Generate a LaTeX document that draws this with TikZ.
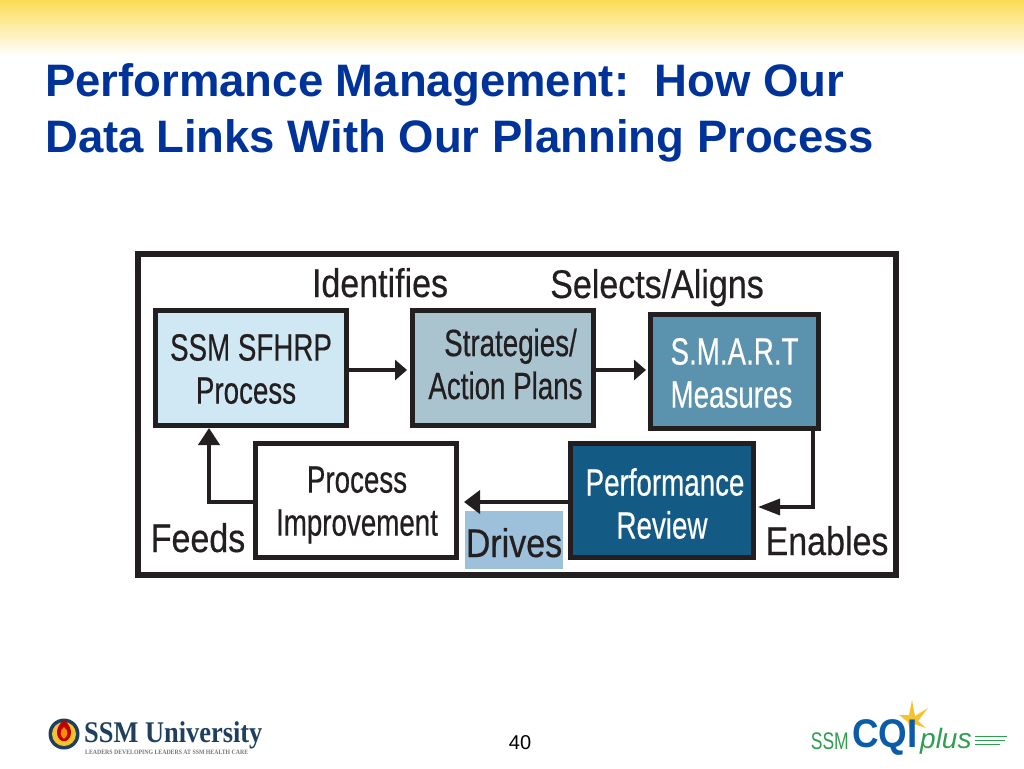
\documentclass[tikz,border=0pt]{standalone}
\usepackage{fontspec}
\setmainfont{Liberation Sans}
\newfontfamily\diagfont[FakeStretch=0.73,FakeBold=0.4]{Liberation Sans}
\newfontfamily\tagfont[FakeStretch=0.85,FakeBold=0.4]{Liberation Sans}
\newfontfamily\ssmfont[FakeStretch=0.73]{Liberation Sans}
\newfontfamily\cqifont[FakeStretch=0.92]{Liberation Sans}
\newfontfamily\logofont[FakeStretch=0.88]{Liberation Serif}
\usetikzlibrary{arrows.meta,positioning,shapes.geometric}
\definecolor{TitleBlue}{HTML}{003399}
\definecolor{BandYellow}{HTML}{FCDC55}
\definecolor{SoftBlue}{HTML}{CFE8F4}
\definecolor{GrayBlue}{HTML}{A9C3CF}
\definecolor{MidBlue}{HTML}{5B93AE}
\definecolor{DeepBlue}{HTML}{135B85}
\definecolor{TagBlue}{HTML}{9DC0DB}
\definecolor{InkBlack}{HTML}{231F20}
\definecolor{LogoNavy}{HTML}{1F3F5F}
\definecolor{LogoGreen}{HTML}{2E9E4F}
\definecolor{LogoBlue}{HTML}{0B5CA8}
\definecolor{LogoStar}{HTML}{F5C32C}
\tikzset{
  procbox/.style={draw=InkBlack, line width=5pt, inner sep=0pt},
  proctext/.style={align=center, text=InkBlack, inner sep=0pt,
                 font=\diagfont\fontsize{38}{43}\selectfont},
  tagtext/.style={anchor=base, text=InkBlack, inner sep=0pt,
                 font=\tagfont\fontsize{40}{43}\selectfont},
  flowarr/.style 2 args={-{Triangle[length=#1,width=#2]}, line width=4.2pt, InkBlack}
}
\begin{document}
\begin{tikzpicture}[x=1pt, y=-1pt]
\useasboundingbox (0,0) rectangle (1024,768);
\shade[top color=BandYellow, bottom color=white] (0,0) rectangle (1024,56);
\node[anchor=west, text=TitleBlue, align=left, inner sep=0pt, font=\bfseries\fontsize{45.5}{56}\selectfont] (title) at (45,113) {Performance Management:\ \ How Our\\Data Links With Our Planning Process};
\draw[InkBlack, line width=6pt] (137.5,254) rectangle (896,575);
\node[procbox, fill=SoftBlue, minimum width=191pt, minimum height=115pt] (sfhrp) at (251,368) {};
\node[procbox, fill=GrayBlue, minimum width=181pt, minimum height=115pt] (strategies) at (503,368) {};
\node[procbox, fill=MidBlue, minimum width=168pt, minimum height=114pt] (smart) at (734.5,371.5) {};
\node[procbox, fill=DeepBlue, minimum width=183pt, minimum height=114pt] (review) at (662,500.5) {};
\node[procbox, fill=white, minimum width=201pt, minimum height=114pt] (improve) at (356,500.5) {};
\node[fill=TagBlue, minimum width=98pt, minimum height=58pt, inner sep=0pt] (drivesbox) at (514,540) {};
\node[proctext] (sfhrptext) at ([yshift=-1pt]sfhrp.center) {SSM SFHRP\\Process\hspace*{10pt}};
\node[proctext] (strategiestext) at ([xshift=2.5pt,yshift=4pt]strategies.center) {\hspace*{10pt}Strategies/\\Action Plans};
\node[proctext, align=left, text=white] (smarttext) at ([yshift=-1.5pt]smart.center) {S.M.A.R.T\\Measures};
\node[proctext, text=white] (reviewtext) at ([yshift=-3pt]review.center) {\hspace*{6pt}Performance\\Review};
\node[proctext] (improvetext) at ([xshift=1pt,yshift=-4.5pt]improve.center) {Process\\Improvement};
\node[tagtext] (identifies) at (380,297) {Identifies};
\node[tagtext] (selects) at (657,298) {Selects/Aligns};
\node[tagtext] (feeds) at (198,552) {Feeds};
\node[tagtext] (enables) at (827,555) {Enables};
\node[tagtext] (drives) at (514,557) {Drives};
\draw[flowarr={12pt}{20pt}, shorten >=3pt] ([yshift=-2pt]sfhrp.east) -- ([yshift=-2pt]strategies.west);
\draw[flowarr={12pt}{20pt}, shorten >=2pt] ([yshift=-2pt]strategies.east) -- ([yshift=1.5pt]smart.west);
\draw[flowarr={22pt}{16pt}, line width=3.3pt, shorten >=2pt] ([xshift=78.5pt]smart.south) |- ([yshift=-6.5pt]review.east);
\draw[flowarr={16pt}{23pt}, shorten >=5pt] ([yshift=-1.5pt]review.west) -- ([yshift=-1.5pt]improve.east);
\draw[flowarr={17pt}{21pt}] ([yshift=-1.5pt]improve.west) -| ([xshift=-42pt]sfhrp.south);
\node[font=\fontsize{20}{24}\selectfont] (pagenum) at (520,743) {40};
\fill[LogoNavy] (64,734) circle (15.5);
\fill[LogoStar] (64,734) circle (12);
\fill[red!75!black] (64,720) .. controls (74,728) and (72,738) .. (66,741) -- (62,741) .. controls (56,738) and (54,728) .. (64,720);
\fill[orange!90!yellow] (64,727) .. controls (69,731) and (68,736) .. (64,739) .. controls (60,736) and (59,731) .. (64,727);
\node[anchor=base west, inner sep=0pt, text=LogoNavy, font=\logofont\bfseries\fontsize{30}{32}\selectfont] (ssmuni) at (84,742) {SSM University};
\node[anchor=west, inner sep=0pt, text=gray!90!black, font=\logofont\bfseries\fontsize{6.6}{7}\selectfont] (tagline) at (85,752) {LEADERS DEVELOPING LEADERS AT SSM HEALTH CARE};
\fill[LogoStar] (912,700) -- (915,716) -- (928,708) -- (918,721) -- (926,728) -- (914,724) -- (910,732) -- (908,722) -- (899,715) -- (909,715) -- cycle;
\node[anchor=east, inner sep=0pt, text=LogoGreen, font=\ssmfont\fontsize{24}{28}\selectfont] (ssmcqi) at (849,741) {SSM};
\node[anchor=base west, inner sep=0pt, text=LogoBlue, font=\cqifont\bfseries\fontsize{40}{46}\selectfont] (cqi) at (852,747) {CQI};
\node[anchor=base west, inner sep=0pt, text=LogoGreen, font=\itshape\fontsize{28}{30}\selectfont] (plus) at (920,748) {plus};
\draw[LogoGreen, line width=0.8pt] (975,736) -- (1007,736) (975,740) -- (1005,740) (975,744) -- (1000,744);
\end{tikzpicture}
\end{document}
